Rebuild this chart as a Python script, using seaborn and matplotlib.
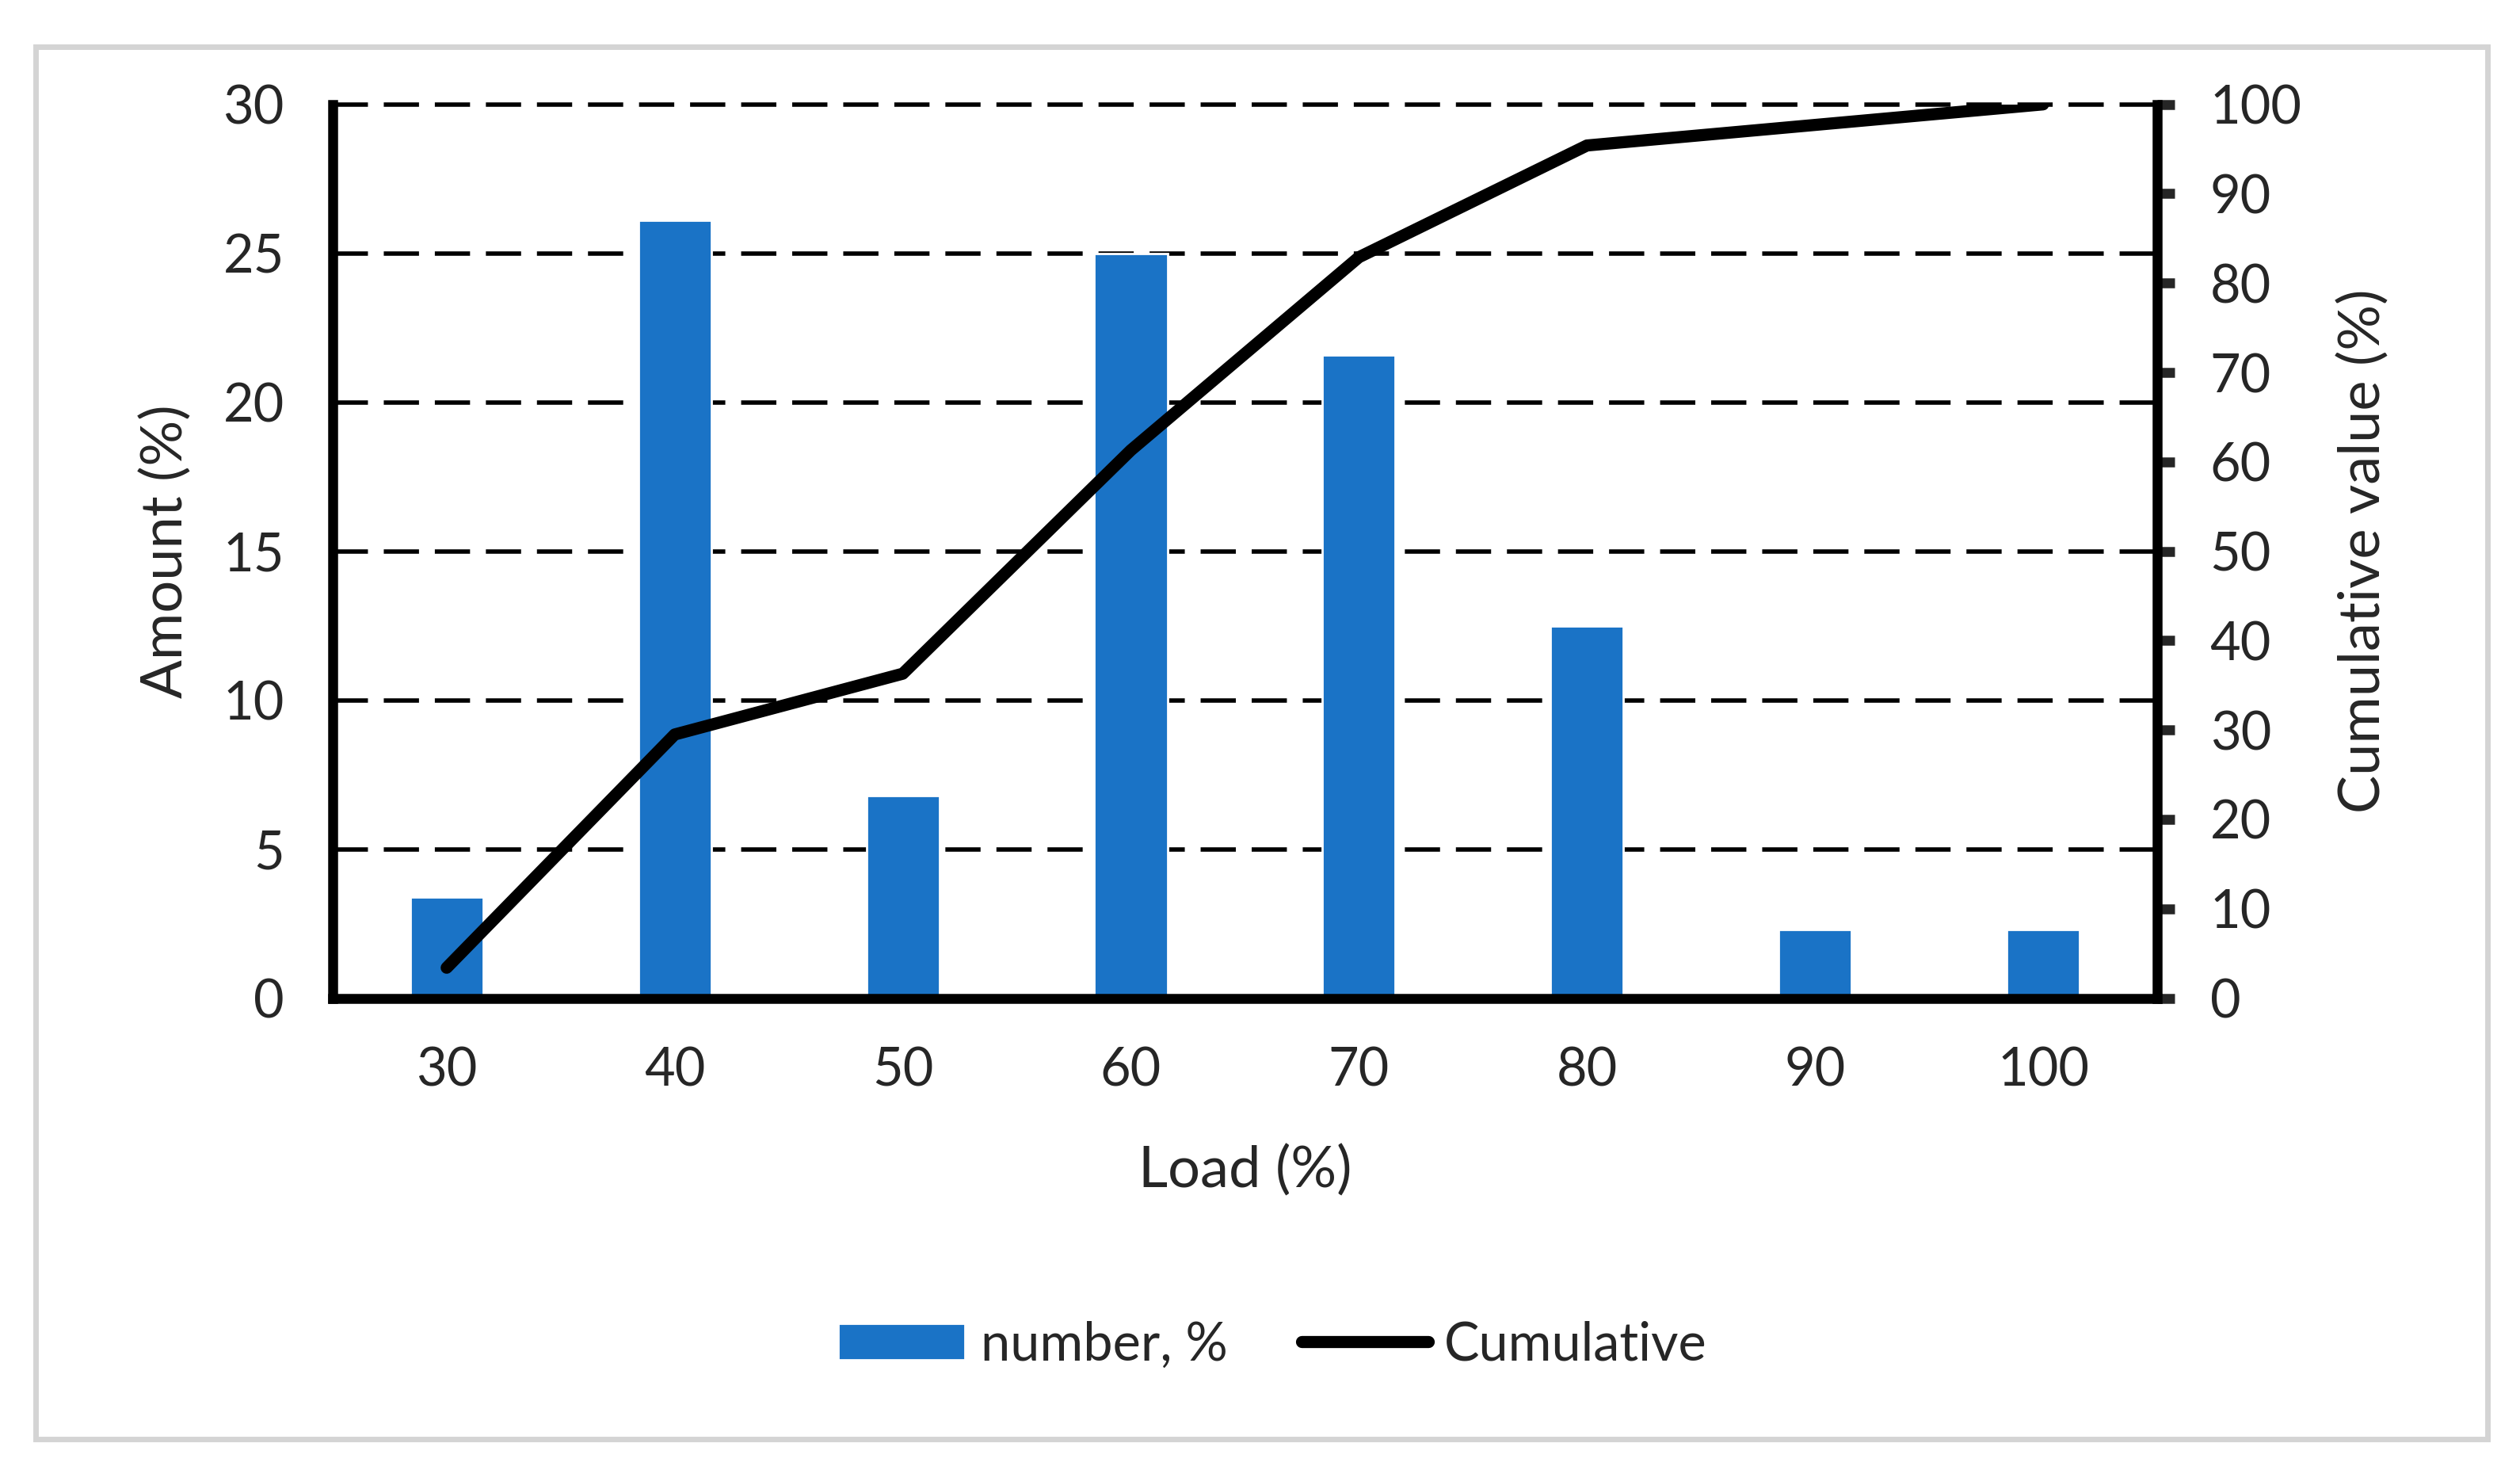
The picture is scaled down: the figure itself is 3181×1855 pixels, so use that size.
import matplotlib
matplotlib.use("Agg")
import matplotlib.pyplot as plt
from matplotlib.patches import Rectangle
from matplotlib.lines import Line2D
from matplotlib.patches import Patch
import seaborn as sns
import pandas as pd

# data
load = ["30", "40", "50", "60", "70", "80", "90", "100"]
amount = [3.4, 26.1, 6.8, 25.0, 21.6, 12.5, 2.3, 2.3]
cumulative = [3.4, 29.5, 36.3, 61.3, 82.9, 95.4, 97.7, 100.0]

df = pd.DataFrame({"load": load, "amount": amount, "cumulative": cumulative})

sns.set_style("white")
plt.rcParams["font.family"] = ["Lato", "DejaVu Sans"]

fig = plt.figure(figsize=(15.905, 9.275), dpi=200)
ax = fig.add_axes([0.132, 0.321, 0.724, 0.608])

sns.barplot(data=df, x="load", y="amount", color="#1a73c6", width=0.32,
            saturation=1, ax=ax)
ax.set_ylim(0, 30)
ax.set_yticks(range(0, 31, 5))
ax.set_axisbelow(True)
ax.yaxis.grid(True, color="black", linestyle=(0, (8, 3.6)), linewidth=2.0)
for gl in ax.get_ygridlines():
    gl.set_clip_on(False)
ax.set_xlabel("Load (%)", fontsize=26, labelpad=22)
ax.set_ylabel("Amount (%)", fontsize=26, labelpad=14)
ax.tick_params(axis="both", length=0, labelsize=24)
ax.tick_params(axis="y", pad=22)
ax.tick_params(axis="x", pad=22)
for s in ["left", "bottom"]:
    ax.spines[s].set_linewidth(4.5)
    ax.spines[s].set_color("black")
ax.spines["top"].set_visible(False)
ax.spines["right"].set_visible(False)

ax2 = ax.twinx()
sns.lineplot(data=df, x="load", y="cumulative", color="black", linewidth=5.5,
             ax=ax2, solid_capstyle="round")
ax2.set_ylim(0, 100)
ax2.set_yticks(range(0, 101, 10))
ax2.set_xlim(-0.5, len(load) - 0.5)
ax2.set_ylabel("Cumulative value (%)", fontsize=26, labelpad=16)
ax2.tick_params(axis="y", direction="out", length=8, width=4.5, pad=16,
                labelsize=24, right=True)
for s in ["left", "bottom", "top"]:
    ax2.spines[s].set_visible(False)
ax2.spines["right"].set_linewidth(4.5)
ax2.spines["right"].set_color("black")
ax.set_xlim(-0.5, len(load) - 0.5)

handles = [Patch(facecolor="#1a73c6", label="number, %"),
           Line2D([0], [0], color="black", linewidth=5.5,
                  solid_capstyle="round", label="Cumulative")]
fig.legend(handles=handles, loc="center", bbox_to_anchor=(0.505, 0.085),
           ncol=2, frameon=False, fontsize=24, handlelength=2.4,
           handletextpad=0.3, columnspacing=1.4)

# light grey frame round the figure
fig.patches.append(Rectangle((0.014, 0.021), 0.973, 0.947,
                             transform=fig.transFigure, fill=False,
                             edgecolor="#d4d4d4", linewidth=2.5))

fig.savefig("out.png", dpi=200)
